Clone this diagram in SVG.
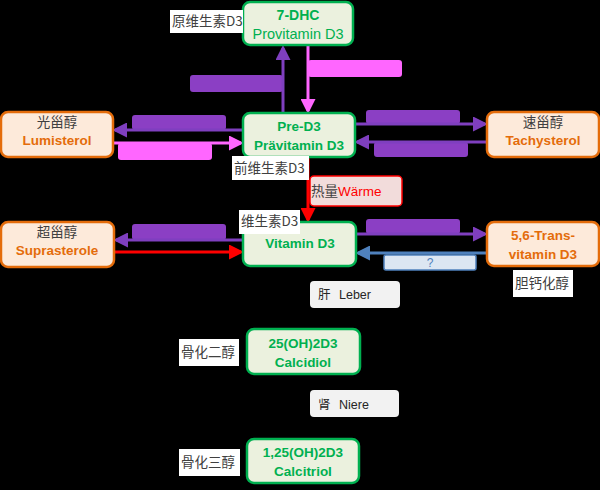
<svg xmlns="http://www.w3.org/2000/svg" width="600" height="490" viewBox="0 0 600 490">
<defs>
<style>
.g{fill:#ebf1de;stroke:#00b050;stroke-width:2.5}
.o{fill:#fdeada;stroke:#e46c0a;stroke-width:2.5}
.t{font-family:"Liberation Sans","Noto Sans CJK SC",sans-serif;font-size:13.5px;text-anchor:middle}
.tg{fill:#00b050;font-weight:bold}
.tgr{fill:#00b050;font-size:14.5px}
.to{fill:#e46c0a;font-weight:bold}
.cj{font-family:"Noto Sans CJK SC",sans-serif;font-size:13.5px;fill:#404040}
.lbl{fill:#ffffff}
.pb{fill:#8b3fc4}
.kb{fill:#ff66ff}
.line{fill:none;stroke-width:3}
</style>
<marker id="ap" markerWidth="5" markerHeight="5" refX="4" refY="2.5" orient="auto" markerUnits="strokeWidth"><path d="M0,0 L5,2.5 L0,5 z" fill="#7f3fbf"/></marker>
<marker id="ak" markerWidth="5" markerHeight="5" refX="4" refY="2.5" orient="auto" markerUnits="strokeWidth"><path d="M0,0 L5,2.5 L0,5 z" fill="#ff66ff"/></marker>
<marker id="ar" markerWidth="5" markerHeight="5" refX="4" refY="2.5" orient="auto" markerUnits="strokeWidth"><path d="M0,0 L5,2.5 L0,5 z" fill="#ff0000"/></marker>
<marker id="ab" markerWidth="5" markerHeight="5" refX="4" refY="2.5" orient="auto" markerUnits="strokeWidth"><path d="M0,0 L5,2.5 L0,5 z" fill="#4f81bd"/></marker>
<marker id="ak0" markerWidth="5" markerHeight="5" refX="4" refY="2.5" orient="auto" markerUnits="strokeWidth"><path d="M0,0 L5,2.5 L0,5 z" fill="#000000"/></marker>
</defs>
<rect width="600" height="490" fill="#000000"/>

<g id="connectors">
<rect class="pb" x="190" y="75" width="93" height="17" rx="3"/>
<rect class="kb" x="308" y="60" width="94" height="17" rx="3"/>
<line class="line" x1="283" y1="113" x2="283" y2="48" stroke="#7f3fbf" marker-end="url(#ap)"/>
<line class="line" x1="308" y1="45" x2="308" y2="111" stroke="#ff66ff" marker-end="url(#ak)"/>

<rect class="pb" x="132" y="115" width="94" height="15" rx="3"/>
<rect class="kb" x="118" y="143" width="94" height="17" rx="3"/>
<line class="line" x1="243" y1="130" x2="115" y2="130" stroke="#7f3fbf" marker-end="url(#ap)"/>
<line class="line" x1="113" y1="143" x2="241" y2="143" stroke="#ff66ff" marker-end="url(#ak)"/>

<rect class="pb" x="366" y="110" width="94" height="14" rx="3"/>
<rect class="pb" x="374" y="142" width="94" height="15" rx="3"/>
<line class="line" x1="355" y1="124" x2="485" y2="124" stroke="#7f3fbf" marker-end="url(#ap)"/>
<line class="line" x1="487" y1="142" x2="357" y2="142" stroke="#7f3fbf" marker-end="url(#ap)"/>

<line class="line" x1="308" y1="157" x2="308" y2="220" stroke="#ff0000" marker-end="url(#ar)"/>

<rect class="pb" x="132" y="224" width="94" height="16" rx="3"/>
<line class="line" x1="243" y1="240" x2="116" y2="240" stroke="#7f3fbf" marker-end="url(#ap)"/>
<line class="line" x1="114" y1="252" x2="241" y2="252" stroke="#ff0000" marker-end="url(#ar)"/>

<rect class="pb" x="366" y="219" width="94" height="15" rx="3"/>
<line class="line" x1="356" y1="234" x2="485" y2="234" stroke="#7f3fbf" marker-end="url(#ap)"/>
<line class="line" x1="487" y1="253" x2="358" y2="253" stroke="#4f81bd" marker-end="url(#ab)"/>
<rect x="384" y="255" width="92" height="15" rx="2" fill="#dce6f2" stroke="#4f81bd" stroke-width="1.5"/>
<text class="t" x="430" y="267" fill="#4f81bd" style="font-size:12px">?</text>

<line x1="308" y1="267" x2="308" y2="330" stroke="#000000" stroke-width="1.5" marker-end="url(#ak0)"/>
<line x1="308" y1="375" x2="308" y2="440" stroke="#000000" stroke-width="1.5" marker-end="url(#ak0)"/>
</g>

<g id="n-7dhc">
<rect class="g" x="243" y="2" width="110" height="43" rx="7"/>
<text class="t tg" x="298" y="20" style="font-size:14px">7-DHC</text>
<text class="t tgr" x="298" y="39">Provitamin D3</text>
<rect class="lbl" x="170" y="10" width="73" height="23"/>
<text class="cj" x="172" y="26">原维生素D3</text>
</g>

<g id="n-pred3">
<rect class="g" x="243" y="113" width="112" height="44" rx="7"/>
<text class="t tg" x="299" y="131">Pre-D3</text>
<text class="t tg" x="299" y="150">Prävitamin D3</text>
<rect class="lbl" x="232" y="156" width="77" height="24"/>
<text class="cj" x="234" y="173">前维生素D3</text>
</g>

<g id="n-lumi">
<rect class="o" x="1" y="112" width="112" height="45" rx="7"/>
<text class="t" x="57" y="127" fill="#404040" style="font-family:'Noto Sans CJK SC',sans-serif">光甾醇</text>
<text class="t to" x="57" y="145">Lumisterol</text>
</g>

<g id="n-tachy">
<rect class="o" x="487" y="112" width="112" height="45" rx="7"/>
<text class="t" x="543" y="127" fill="#404040" style="font-family:'Noto Sans CJK SC',sans-serif">速甾醇</text>
<text class="t to" x="543" y="145">Tachysterol</text>
</g>

<g id="n-waerme">
<rect x="310" y="176" width="92" height="30" rx="4" fill="#f2dcdb" stroke="#ff0000" stroke-width="1.5"/>
<text x="311" y="196" style="font-family:'Liberation Sans','Noto Sans CJK SC',sans-serif;font-size:13.5px"><tspan fill="#404040" style="font-family:'Noto Sans CJK SC',sans-serif">热量</tspan><tspan fill="#ff0000">Wärme</tspan></text>
</g>

<g id="n-vitd3">
<rect class="g" x="243" y="222" width="113" height="44" rx="7"/>
<text class="t tg" x="300" y="248">Vitamin D3</text>
<rect class="lbl" x="239" y="210" width="61" height="24"/>
<text class="cj" x="241" y="226">维生素D3</text>
</g>

<g id="n-supra">
<rect class="o" x="1" y="222" width="113" height="45" rx="7"/>
<text class="t" x="57" y="237" fill="#404040" style="font-family:'Noto Sans CJK SC',sans-serif">超甾醇</text>
<text class="t to" x="57" y="255">Suprasterole</text>
</g>

<g id="n-trans">
<rect class="o" x="487" y="222" width="112" height="44" rx="7"/>
<text class="t to" x="543" y="240">5,6-Trans-</text>
<text class="t to" x="543" y="259">vitamin D3</text>
<rect class="lbl" x="513" y="270" width="60" height="27"/>
<text class="cj" x="515" y="288">胆钙化醇</text>
</g>

<g id="n-leber">
<rect x="310" y="281" width="90" height="27" rx="4" fill="#f2f2f2"/>
<text x="318" y="299" style="font-family:'Liberation Sans','Noto Sans CJK SC',sans-serif;font-size:12.5px" fill="#262626"><tspan style="font-family:'Noto Sans CJK SC',sans-serif">肝</tspan><tspan x="339">Leber</tspan></text>
</g>

<g id="n-calcidiol">
<rect class="g" x="247" y="329" width="113" height="45" rx="7"/>
<text class="t tg" x="303" y="348">25(OH)2D3</text>
<text class="t tg" x="303" y="367">Calcidiol</text>
<rect class="lbl" x="179" y="339" width="60" height="27"/>
<text class="cj" x="181" y="357">骨化二醇</text>
</g>

<g id="n-niere">
<rect x="310" y="390" width="89" height="27" rx="4" fill="#f2f2f2"/>
<text x="318" y="409" style="font-family:'Liberation Sans','Noto Sans CJK SC',sans-serif;font-size:12.5px" fill="#262626"><tspan style="font-family:'Noto Sans CJK SC',sans-serif">肾</tspan><tspan x="339">Niere</tspan></text>
</g>

<g id="n-calcitriol">
<rect class="g" x="247" y="439" width="112" height="44" rx="7"/>
<text class="t tg" x="303" y="457">1,25(OH)2D3</text>
<text class="t tg" x="303" y="476">Calcitriol</text>
<rect class="lbl" x="179" y="449" width="61" height="27"/>
<text class="cj" x="181" y="467">骨化三醇</text>
</g>
</svg>
